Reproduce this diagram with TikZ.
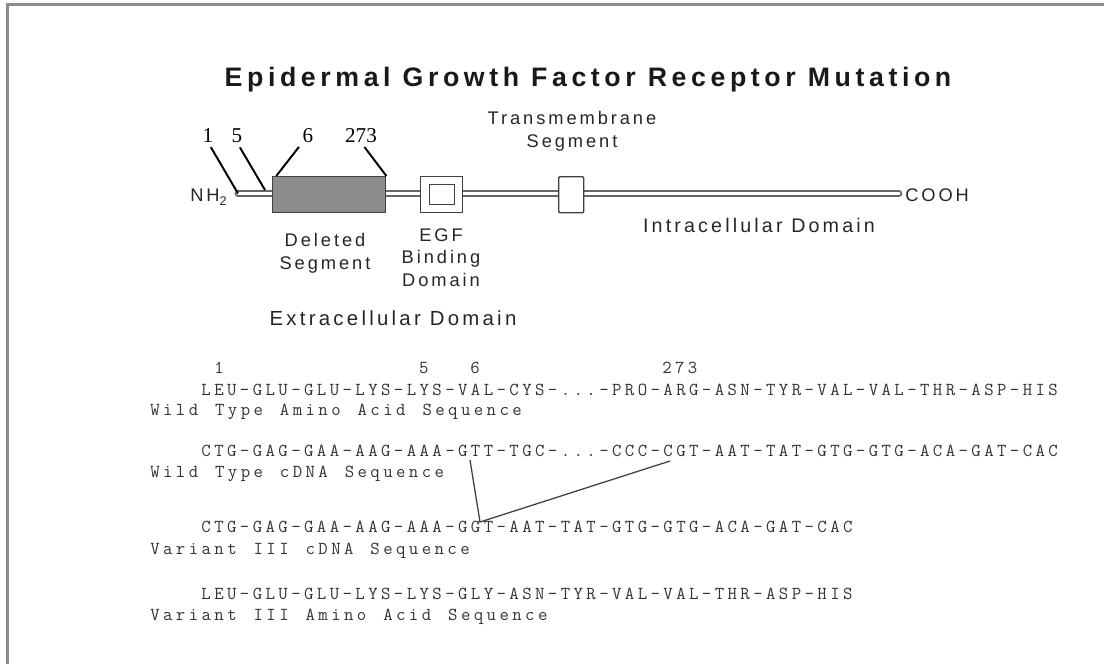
\documentclass[tikz,border=0pt]{standalone}
\usepackage{fontspec}
\setmainfont{Liberation Serif}
\newfontfamily\lblfont[LetterSpace=16]{Liberation Sans}
\newfontfamily\titlefont[LetterSpace=17.2]{Liberation Sans}
\newfontfamily\seqfont[LetterSpace=18.7, WordSpace=1.32]{Latin Modern Mono}
\usetikzlibrary{positioning}

\begin{document}
\begin{tikzpicture}[
  x=0.025cm, y=-0.025cm,
  every node/.style={inner sep=0pt},
  lbl/.style={font=\lblfont\fontsize{13}{16.3}\selectfont, text=black!85, align=center},
  dom/.style={font=\lblfont\fontsize{14}{17}\selectfont, text=black!85, anchor=base},
  num/.style={font=\fontsize{15}{18}\selectfont, text=black, anchor=base},
  seq/.style={font=\seqfont\fontsize{13}{15}\selectfont, text=black!80, anchor=base west},
  pin/.style={line width=1.4pt, shorten <=4pt},
  box/.style={draw=black!75, line width=1pt},
  pline/.style={draw=black!60, double=white, double distance=2.2pt,
                line width=1.3pt, line cap=round}
]
\useasboundingbox (0,0) rectangle (1104,664);
\draw[black!45, line width=1.6pt] (7.5,664) -- (7.5,4.5) -- (1104,4.5);

\node[font=\titlefont\bfseries\fontsize{19}{22}\selectfont, text=black!90, anchor=base]
  (title) at (588,86) {Epidermal Growth Factor Receptor Mutation};

% protein chain
\coordinate (nterm) at (238,193.5);
\coordinate (cterm) at (899,193.5);
\draw[pline] (nterm) -- (cterm);
\node[box, fill=black!45, minimum width=113*0.025cm, minimum height=36*0.025cm,
      anchor=north west] (delbox) at (272,176) {};
\node[box, fill=white, minimum width=42*0.025cm, minimum height=36*0.025cm,
      anchor=north west] (egfbox) at (420,176) {};
\node[box, fill=white, minimum width=25*0.025cm, minimum height=20*0.025cm]
  (egfin) at (egfbox.center) {};
\node[box, fill=white, rounded corners=0.8pt, minimum width=25*0.025cm,
      minimum height=36*0.025cm, anchor=north west] (tmbox) at (558,176) {};

\node[lbl, anchor=base east] (nh) at (227,201)
  {NH\raisebox{-3pt}{\fontsize{9}{9}\selectfont 2}};
\node[lbl, anchor=base west] (cooh) at (905,201) {COOH};

% residue numbers
\node[num] (n1) at (208,142) {1};
\node[num] (n5) at (237,142) {5};
\node[num] (n6) at (308,142) {6};
\node[num] (n273) at (361,142) {273};
\draw[pin] (n1.south) -- (nterm);
\draw[pin] (n5.south) -- (265,190);
\draw[pin] (n6.south west) -- ([xshift=3pt]delbox.north west);
\draw[pin] (n273.south) -- (delbox.north east);

\node[lbl, anchor=north] (tmlabel) at (572,111) {Transmembrane\\Segment};
\node[lbl, anchor=north] (dellabel) at (325,233) {Deleted\\Segment};
\node[lbl, anchor=north] (egflabel) at (441,228) {EGF\\Binding\\Domain};
\node[dom, font=\lblfont\fontsize{14.5}{17}\selectfont] (exlabel) at (393,325) {Extracellular Domain};
\node[dom] (inlabel) at (759,232) {Intracellular Domain};

% sequences
\node[seq] (s1) at (214,373) {1};
\node[seq] (s5) at (418.8,373) {5};
\node[seq] (s6) at (470,373) {6};
\node[seq] (s273) at (662,373) {273};
\node[seq] (wtaa) at (201.2,395) {LEU-GLU-GLU-LYS-LYS-VAL-CYS-...-PRO-ARG-ASN-TYR-VAL-VAL-THR-ASP-HIS};
\node[seq] (wtaalbl) at (150,415) {Wild Type Amino Acid Sequence};
\node[seq] (wtdna) at (201.2,456) {CTG-GAG-GAA-AAG-AAA-GTT-TGC-...-CCC-CGT-AAT-TAT-GTG-GTG-ACA-GAT-CAC};
\node[seq] (wtdnalbl) at (150,477) {Wild Type cDNA Sequence};
\node[seq] (vdna) at (201.2,532) {CTG-GAG-GAA-AAG-AAA-GGT-AAT-TAT-GTG-GTG-ACA-GAT-CAC};
\node[seq] (vdnalbl) at (150,554) {Variant III cDNA Sequence};
\node[seq] (vaa) at (201.2,599) {LEU-GLU-GLU-LYS-LYS-GLY-ASN-TYR-VAL-VAL-THR-ASP-HIS};
\node[seq] (vaalbl) at (150,620) {Variant III Amino Acid Sequence};

\coordinate (cut5) at (470,460);
\coordinate (join) at (480,522);
\coordinate (cut3) at (670,461);
\draw[black!75, line width=0.9pt] (cut5) -- (join) -- (cut3);
\end{tikzpicture}
\end{document}
